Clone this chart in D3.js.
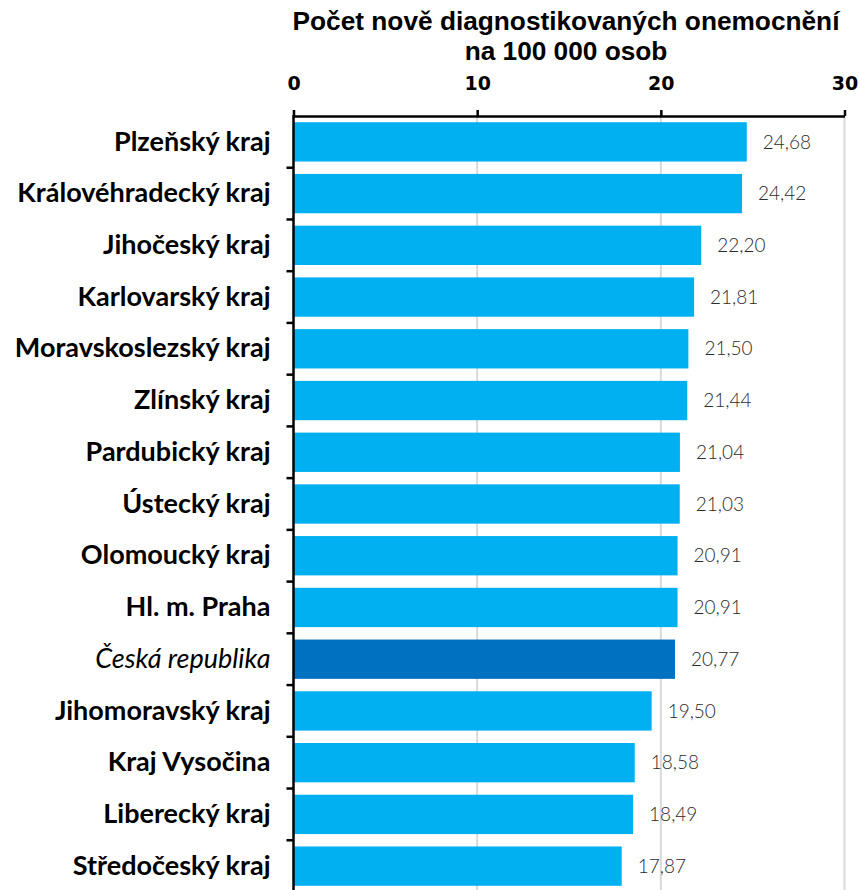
<!DOCTYPE html>
<html>
<head>
<meta charset="utf-8">
<script src="https://cdn.jsdelivr.net/npm/d3@7"></script>
<style>
  body { margin: 0; background: #fff; }
  svg { display: block; }
</style>
</head>
<body>
<div class="container"></div>
<script>
// data
const regions = ['Plzeňský kraj', 'Královéhradecký kraj', 'Jihočeský kraj', 'Karlovarský kraj',
  'Moravskoslezský kraj', 'Zlínský kraj', 'Pardubický kraj', 'Ústecký kraj', 'Olomoucký kraj',
  'Hl. m. Praha', 'Česká republika', 'Jihomoravský kraj', 'Kraj Vysočina', 'Liberecký kraj',
  'Středočeský kraj'];
const rates = [24.68, 24.42, 22.20, 21.81, 21.50, 21.44, 21.04, 21.03, 20.91, 20.91, 20.77, 19.50, 18.58, 18.49, 17.87];
const xTicks = [0, 10, 20, 30];
const titleLines = ['Počet nově diagnostikovaných onemocnění', 'na 100 000 osob'];
const national = 'Česká republika';

const data = regions.map((r, i) => ({ region: r, rate: rates[i] }));

const W = 860, H = 890;
const margin = { top: 116, right: 15, bottom: -2, left: 293.5 };
const width = 844.5 - margin.left;
const height = H - margin.top - margin.bottom;

const svg = d3.select('.container')
  .append('svg')
  .attr('width', W)
  .attr('height', H);

const chart = svg.append('g')
  .attr('transform', 'translate(' + margin.left + ',' + margin.top + ')');

const xScale = d3.scaleLinear().domain([0, 30]).range([0, width]);
const yScale = d3.scaleBand()
  .domain(regions)
  .range([0, height])
  .paddingInner(0.24)
  .paddingOuter(0.12);

// gridlines
chart.selectAll('.grid')
  .data(xTicks.filter(d => d > 0))
  .enter()
  .append('line')
  .attr('class', 'grid')
  .attr('x1', d => xScale(d))
  .attr('x2', d => xScale(d))
  .attr('y1', 0)
  .attr('y2', height)
  .attr('stroke', '#d9d9d9')
  .attr('stroke-width', 2);

// bars
chart.selectAll('.bar')
  .data(data)
  .enter()
  .append('rect')
  .attr('class', 'bar')
  .attr('x', xScale(0))
  .attr('y', d => yScale(d.region))
  .attr('width', d => xScale(d.rate) - xScale(0))
  .attr('height', yScale.bandwidth())
  .attr('fill', d => d.region === national ? '#0070c0' : '#00b0f0');

// value labels
chart.selectAll('.textlabel')
  .data(data)
  .enter()
  .append('text')
  .attr('class', 'textlabel')
  .attr('x', d => xScale(d.rate) + 16)
  .attr('y', d => yScale(d.region) + yScale.bandwidth() / 2)
  .attr('dy', '0.35em')
  .attr('font-family', 'Lato, sans-serif')
  .attr('font-weight', 300)
  .attr('font-size', '19px')
  .attr('fill', '#2b2b2b')
  .text(d => d3.format('.2f')(d.rate).replace('.', ','));

// top axis
const xAxis = chart.append('g')
  .call(d3.axisTop(xScale).tickValues(xTicks).tickSize(6).tickSizeOuter(0).tickPadding(20));
xAxis.select('.domain').attr('stroke', '#000').attr('stroke-width', 2.5);
xAxis.selectAll('.tick line').attr('stroke', '#000').attr('stroke-width', 2.5);
xAxis.selectAll('text')
  .attr('font-family', '"DejaVu Sans", sans-serif')
  .attr('font-weight', 'bold')
  .attr('font-size', '19px')
  .attr('fill', '#000');

// left axis with ticks between categories
const yAxis = chart.append('g')
  .call(d3.axisLeft(yScale).tickSize(0).tickPadding(23));
yAxis.select('.domain').remove();
yAxis.selectAll('text')
  .attr('font-family', 'Lato, sans-serif')
  .attr('font-size', '27px')
  .attr('font-weight', d => d === national ? 'normal' : 'bold')
  .attr('font-style', d => d === national ? 'italic' : 'normal')
  .attr('fill', '#000');

const step = yScale.step();
const bounds = regions.map(r => yScale(r) - step * yScale.paddingInner() / 2).slice(1);
chart.selectAll('.ytick')
  .data(bounds)
  .enter()
  .append('line')
  .attr('class', 'ytick')
  .attr('x1', -7)
  .attr('x2', 0)
  .attr('y1', d => d)
  .attr('y2', d => d)
  .attr('stroke', '#000')
  .attr('stroke-width', 2.5);

chart.append('line')
  .attr('x1', 0).attr('x2', 0)
  .attr('y1', -1).attr('y2', height)
  .attr('stroke', '#000')
  .attr('stroke-width', 2.5);

// title
svg.append('g')
  .attr('transform', 'translate(566, 30) scale(1.05, 1)')
  .selectAll('text')
  .data(titleLines)
  .enter()
  .append('text')
  .attr('y', (d, i) => i * 30)
  .attr('text-anchor', 'middle')
  .attr('font-family', '"Liberation Sans", Arial, sans-serif')
  .attr('font-weight', 'bold')
  .attr('font-size', '25px')
  .attr('fill', '#000')
  .text(d => d);
</script>
</body>
</html>
